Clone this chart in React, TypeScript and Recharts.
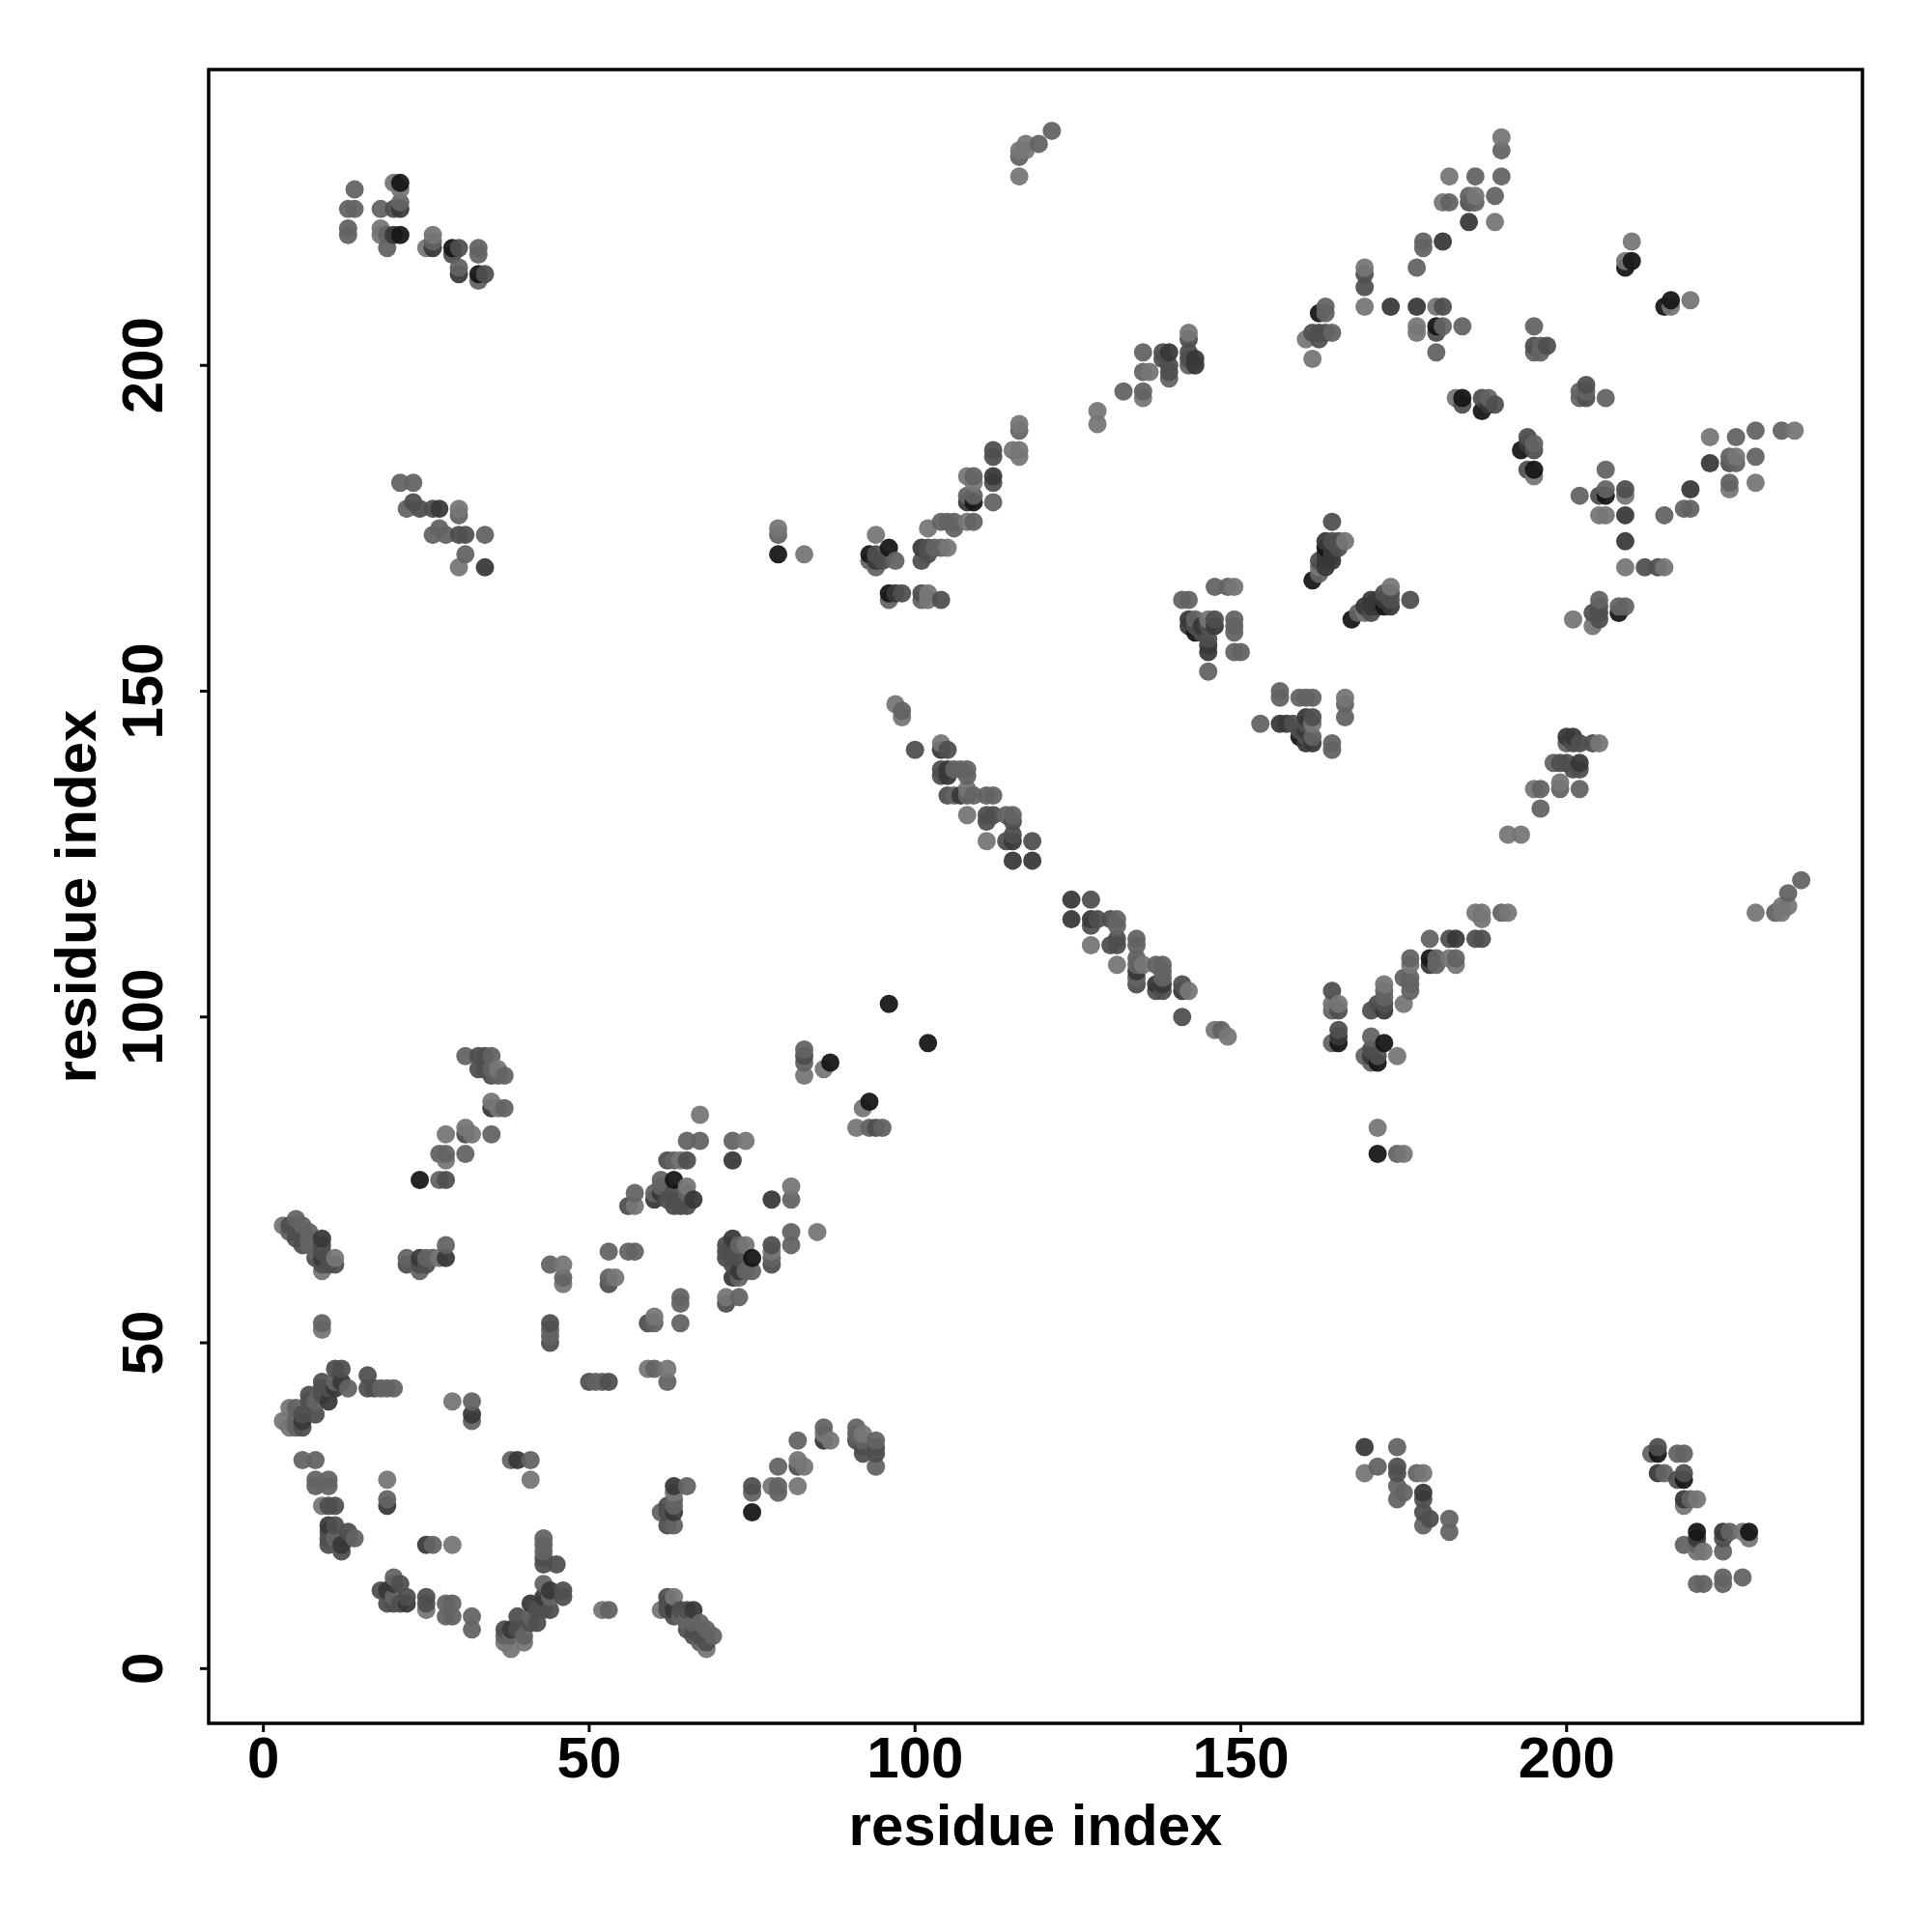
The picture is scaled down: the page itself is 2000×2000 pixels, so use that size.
import { ReferenceArea, Scatter, ScatterChart, XAxis, YAxis } from "recharts";

// contact pairs as [residue i, residue j, strength 1 (weak) to 5 (strong)]
// the map is symmetric, each pair is only listed once and is drawn on both sides of the diagonal
type Contact = [number, number, number];

const helixEnds: Contact[] = [
  [3,68,1],[5,69,2],[4,68,3],[6,68,2],[4,67,2],[5,67,3],[7,67,2],[5,66,3],[6,66,3],[7,66,2],[6,65,3],[7,65,2],
  [8,65,2],[9,66,4],[9,65,3],[8,64,2],[9,64,3],[8,63,3],[9,63,4],[9,62,3],[11,62,3],[10,62,3],[11,63,1],[9,61,1],
  [9,53,2],[9,52,1],
];
const strandA: Contact[] = [
  [22,63,2],[22,62,3],[24,63,4],[24,62,3],[24,61,2],[25,63,2],[25,62,3],[26,63,2],[27,63,1],[28,65,2],[28,63,4],
  [44,62,2],[46,62,1],[46,60,2],[46,59,1],[53,64,2],[56,64,2],[57,64,2],[53,60,2],[53,59,3],[54,60,1],
  [44,53,3],[44,52,2],[44,51,2],[44,50,3],
];
const strandB: Contact[] = [
  [3,38,1],[4,40,1],[5,40,2],[4,37,1],[5,37,2],[6,37,3],[6,39,3],[7,42,3],[8,39,3],[6,38,4],[5,38,2],[9,44,3],
  [10,41,4],[9,42,3],[10,43,3],[11,46,3],[12,46,3],[12,44,4],[13,43,2],[11,43,4],[11,44,2],[9,43,3],[8,41,2],[7,41,3],
  [16,45,3],[16,43,3],[17,43,3],[18,43,2],[19,43,2],[20,43,2],[29,41,1],[32,41,2],[32,39,4],[32,38,2],
];
const turnA: Contact[] = [
  [6,32,2],[8,32,2],[8,29,2],[10,29,2],[8,28,2],[10,28,2],[9,25,1],[10,25,3],[11,25,3],[19,29,1],[19,26,2],[19,25,4],
  [10,22,4],[11,22,3],[10,21,3],[10,20,3],[10,19,3],[11,20,2],[12,18,3],[13,21,3],[14,20,2],[13,20,4],[12,19,4],
];
const farA: Contact[] = [
  [31,94,2],[33,94,3],[34,94,3],[35,94,2],[33,92,3],[34,92,3],[35,92,2],[36,92,1],[35,91,3],[36,91,2],[37,91,2],
  [35,87,1],[35,86,4],[36,86,1],[37,86,2],[35,82,2],[28,82,1],[31,83,1],[31,82,3],[32,82,1],[27,79,2],[28,79,2],
  [28,78,1],[31,79,2],[24,75,5],[27,75,2],[28,75,3],
];
const farB: Contact[] = [
  [67,85,1],[65,81,2],[67,81,2],[72,81,2],[74,81,1],[72,78,4],[63,78,2],[64,78,1],[65,78,3],[61,75,2],[63,75,5],
  [61,74,2],[60,73,2],[61,73,4],[57,73,2],[63,73,3],[65,74,1],[65,73,2],[64,72,3],[66,72,4],[57,71,1],[56,71,3],
  [63,71,3],[64,71,3],[65,71,3],[60,72,4],[62,72,3],[62,78,3],[83,95,2],[83,94,3],[83,93,2],[83,91,1],
  [86,92,1],[87,93,5],[96,102,5],
];
const farC: Contact[] = [
  [13,224,2],[14,224,2],[14,227,2],[13,221,2],[13,220,2],[18,224,2],[20,228,1],[21,228,5],[21,227,1],[21,225,2],[20,224,3],[21,224,4],
  [18,221,1],[18,220,1],[19,220,2],[19,218,2],[20,220,4],[21,220,5],[25,218,1],[26,220,1],[26,219,2],[26,218,4],
  [29,218,5],[30,218,3],[29,217,3],[33,218,2],[33,217,2],[30,215,2],[30,214,4],[33,214,5],[34,214,3],[33,213,2],
  [21,182,2],[23,182,2],[22,178,2],[23,179,3],[24,178,3],[26,178,3],[27,178,4],[30,178,1],[30,177,2],[27,175,2],
  [26,174,2],[28,174,2],[30,174,3],[31,174,3],[34,174,2],[31,171,2],[30,169,1],[34,169,4],
];
const sheetA: Contact[] = [
  [79,175,1],[79,174,2],[79,171,5],[83,171,1],[94,174,1],[96,172,5],[93,170,2],[94,169,2],[94,170,4],[95,170,3],[97,170,2],
  [93,171,5],[94,171,3],[101,172,4],[102,172,3],[103,172,2],[104,172,2],[105,172,1],[101,170,3],[102,171,3],
  [96,165,5],[96,164,2],[97,165,4],[98,165,3],[101,165,3],[101,164,2],[102,165,1],[102,164,1],[104,164,3],
  [102,175,1],[104,176,2],[105,176,2],[106,176,2],[106,175,2],[108,176,1],[109,176,2],[108,183,1],[109,183,2],[109,182,1],
  [108,180,2],[109,180,2],[108,179,4],[109,179,5],[112,183,4],[112,182,3],[112,179,2],[112,187,3],[112,186,3],
  [115,187,1],[116,187,1],[116,186,1],[116,191,1],[116,190,2],
  [128,193,1],[128,191,1],[132,196,2],[135,202,2],[135,199,2],[136,199,1],[135,196,2],[135,195,1],
  [138,202,3],[139,202,4],[138,201,3],[139,200,3],[139,199,3],[139,198,2],[142,205,1],[142,204,3],[142,202,3],[142,201,3],[143,201,4],[143,200,4],[142,200,2],
  [121,236,2],[119,234,2],[117,234,1],[116,233,1],[117,233,1],[116,232,2],[116,229,1],
];
const antiparallel: Contact[] = [
  [97,148,1],[98,147,2],[98,146,1],[100,141,3],[104,142,1],[104,141,4],[105,141,3],[104,138,3],[104,137,3],[105,138,4],[105,137,4],
  [106,138,2],[107,138,2],[108,138,2],[108,137,2],[105,134,3],[106,134,2],[107,134,4],[108,135,1],[108,134,2],[109,134,2],
  [111,134,2],[112,134,2],[108,131,1],[111,131,3],[112,131,3],[111,130,3],[114,131,2],[115,131,2],[115,130,3],
  [115,128,3],[115,127,4],[111,127,1],[114,127,3],[118,127,3],[115,124,4],[118,124,4],
];
const sheetB: Contact[] = [
  [146,166,2],[148,166,2],[149,166,1],[141,164,2],[142,164,2],[142,161,4],[142,160,4],[143,161,2],[143,160,3],[144,160,4],[145,161,1],
  [146,161,3],[146,160,4],[145,160,3],[143,159,5],[144,159,3],[145,158,3],[145,157,4],[145,156,4],[145,153,2],
  [149,161,2],[149,160,2],[149,159,2],[149,156,2],[150,156,2],
  [164,176,3],[163,173,4],[164,173,3],[165,173,3],[166,173,1],[163,172,5],[164,172,4],[165,172,3],[163,171,4],[164,171,4],
  [162,170,3],[163,170,4],[164,170,4],[162,169,1],[163,169,4],[162,168,2],[161,167,5],
];
const sheetC: Contact[] = [
  [190,235,1],[190,233,2],[190,229,2],[186,229,2],[182,229,1],[189,226,2],[185,226,2],[186,226,1],[185,225,3],[186,225,2],[181,225,1],[182,225,2],[185,222,4],[189,222,1],
  [178,219,2],[178,218,2],[181,219,4],[177,215,2],[169,215,1],[169,214,3],[169,212,3],[169,209,1],[173,209,4],[177,209,4],[180,209,1],[181,209,3],
  [177,206,1],[177,205,1],[180,206,5],[181,206,2],[180,205,3],[184,206,2],[180,202,2],
  [163,209,2],[162,208,5],[163,208,2],[162,205,3],[163,205,3],[164,205,2],[160,204,1],[161,205,3],[162,204,3],[161,201,1],
  [195,206,2],[195,203,3],[196,203,2],[197,203,3],[195,202,2],[196,202,2],
  [183,195,1],[184,195,5],[184,194,3],[187,195,3],[188,195,2],[187,193,5],[188,194,4],[189,194,3],[210,219,1],[209,216,1],[210,216,5],[209,215,5],
];

const allContacts = [...helixEnds, ...strandA, ...strandB, ...turnA, ...farA, ...farB, ...farC, ...antiparallel, ...sheetA, ...sheetB, ...sheetC];

const TICKS = [0, 50, 100, 150, 200];
const DOMAIN: [number, number] = [-8.4, 245.4];
const GREYS = ["#767676", "#636363", "#4f4f4f", "#383838", "#161616"];
const FONT = "'Liberation Sans', Arial, sans-serif";

// both triangles, later residues on top like the original plot order
const points = allContacts
  .flatMap(([i, j, s]) => [
    { x: i, y: j, s },
    { x: j, y: i, s },
  ])
  .sort((a, b) => a.x - b.x || a.y - b.y);

function XTick({ x, y, payload }: any) {
  return (
    <text x={x} y={y + 45} textAnchor="middle" fontFamily={FONT} fontWeight={700} fontSize={60} fill="#000">
      {payload.value}
    </text>
  );
}

function YTick({ x, y, payload }: any) {
  return (
    <text x={x - 37} y={y} transform={`rotate(-90 ${x - 37} ${y})`} textAnchor="middle" fontFamily={FONT} fontWeight={700} fontSize={60} fill="#000">
      {payload.value}
    </text>
  );
}

const labelStyle = { fontFamily: FONT, fontWeight: 700, fontSize: 60, fill: "#000" };

export default function App() {
  return (
    <div style={{ position: "absolute", left: 0, top: 0, width: 2000, height: 2000, background: "#fff" }}>
      <ScatterChart width={2000} height={2000} margin={{ top: 72, right: 72, bottom: 0, left: 0 }}>
        <XAxis
          type="number"
          dataKey="x"
          domain={DOMAIN}
          ticks={TICKS}
          height={216}
          axisLine={false}
          tickSize={9}
          tickLine={{ stroke: "#000", strokeWidth: 3 }}
          tick={<XTick />}
          interval={0}
          allowDataOverflow
          label={{ value: "residue index", position: "insideBottom", offset: 90, style: labelStyle }}
        />
        <YAxis
          type="number"
          dataKey="y"
          domain={DOMAIN}
          ticks={TICKS}
          width={216}
          axisLine={false}
          tickSize={9}
          tickLine={{ stroke: "#000", strokeWidth: 3 }}
          tick={<YTick />}
          interval={0}
          allowDataOverflow
          label={{ value: "residue index", angle: -90, position: "insideLeft", offset: 78, style: { ...labelStyle, textAnchor: "middle" } }}
        />
        <ReferenceArea x1={DOMAIN[0]} x2={DOMAIN[1]} y1={DOMAIN[0]} y2={DOMAIN[1]} fill="none" stroke="#000" strokeWidth={3.5} ifOverflow="visible" />
        <Scatter
          data={points}
          isAnimationActive={false}
          shape={(p: any) => <circle cx={p.cx} cy={p.cy} r={9.5} fill={GREYS[p.payload.s - 1]} fillOpacity={0.94} />}
        />
      </ScatterChart>
    </div>
  );
}
